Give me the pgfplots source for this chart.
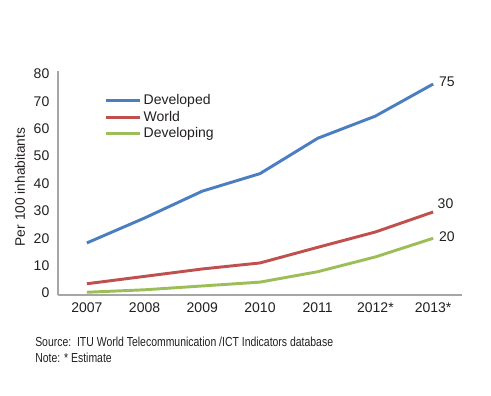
\documentclass[border=0pt]{standalone}
\usepackage{pgfplots}
\pgfplotsset{compat=1.18}
\usepackage{fontspec}
\setmainfont{Liberation Sans}
\definecolor{cblue}{RGB}{74,126,192}
\definecolor{cred}{RGB}{192,80,77}
\definecolor{cgreen}{RGB}{155,190,89}
\definecolor{ctext}{RGB}{35,31,32}
\begin{document}
\begin{tikzpicture}
\path[use as bounding box] (0,0) rectangle (368.25pt,296.25pt);
\begin{axis}[
  at={(43.5pt,75pt)}, anchor=south west,
  scale only axis,
  width=303pt, height=168.3pt,
  xmin=-0.5, xmax=6.5, ymin=-0.7, ymax=81.2,
  axis x line=bottom, axis y line=left,
  axis line style={-, draw=black!35, line width=0.8pt},
  xtick={0,...,6},
  xticklabels={2007,2008,2009,2010,2011,2012*,2013*},
  ytick={0,10,...,80},
  major tick length=0pt,
  tick label style={font=\fontsize{10.5}{12}\selectfont, text=ctext},
  /pgf/number format/assume math mode=true,
  xticklabel style={yshift=-2pt},
  yticklabel style={xshift=-3pt},
  legend style={at={(0.115,0.905)}, anchor=north west, draw=none, fill=none,
    font=\fontsize{10.5}{12}\selectfont, text=ctext, row sep=-1pt,
    inner sep=0pt},
  legend cell align=left,
  legend image code/.code={\draw[#1, line width=2.2pt] (0pt,0pt) -- (25pt,0pt);},
  clip=false,
]
\addplot[cblue, line width=2.2pt] coordinates {(0,18.3) (1,27.4) (2,37.2) (3,43.6) (4,56.5) (5,64.6) (6,76.3)}
  node[pos=1, anchor=west, text=ctext, font=\fontsize{10.5}{12}\selectfont, xshift=0pt, yshift=2pt] {75};
\addlegendentry{Developed}
\addplot[cred, line width=2.2pt] coordinates {(0,3.4) (1,6.1) (2,8.8) (3,11.0) (4,16.7) (5,22.3) (6,29.6)}
  node[pos=1, anchor=south west, text=ctext, font=\fontsize{10.5}{12}\selectfont, xshift=-1pt, yshift=-2pt] {30};
\addlegendentry{World}
\addplot[cgreen, line width=2.2pt] coordinates {(0,0.3) (1,1.2) (2,2.6) (3,4.0) (4,7.8) (5,13.2) (6,20.0)}
  node[pos=1, anchor=west, text=ctext, font=\fontsize{10.5}{12}\selectfont, xshift=0pt, yshift=1pt] {20};
\addlegendentry{Developing}
\end{axis}
\node[rotate=90, text=ctext, font=\fontsize{10.3}{12}\selectfont] at (15pt,156pt) {Per 100 inhabitants};
\node[anchor=west, text=ctext, inner sep=0pt] at (26.25pt,39.75pt) {\scalebox{0.8}[1]{\fontsize{9.8}{11}\selectfont Source:\ \ ITU World Telecommunication /ICT Indicators database}};
\node[anchor=west, text=ctext, inner sep=0pt] at (26.25pt,27.75pt) {\scalebox{0.8}[1]{\fontsize{9.8}{11}\selectfont Note: * Estimate}};
\end{tikzpicture}
\end{document}
